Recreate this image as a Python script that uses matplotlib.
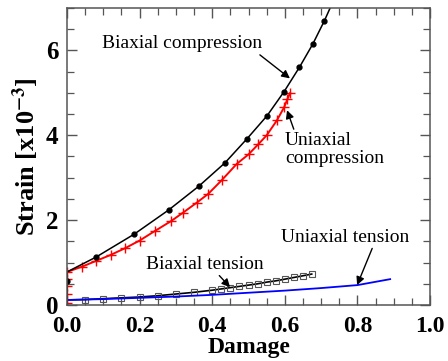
import matplotlib.pyplot as plt
from matplotlib.ticker import MultipleLocator

# biaxial compression (black line, filled dots)
bc_damage = [0.0, 0.0, 0.0, 0.08, 0.185, 0.28, 0.363, 0.435, 0.496, 0.551, 0.598, 0.64, 0.677, 0.709, 0.73]
bc_strain = [0.0, 0.56, 0.78, 1.13, 1.67, 2.24, 2.80, 3.35, 3.92, 4.46, 5.03, 5.60, 6.15, 6.70, 7.10]
bc_marks = [1, 3, 4, 5, 6, 7, 8, 9, 10, 11, 12, 13]

# uniaxial compression (red line, crosses)
uc_damage = [0.0, 0.0, 0.0, 0.0, 0.0, 0.04, 0.08, 0.12, 0.16, 0.2, 0.243, 0.287, 0.32, 0.357,
             0.389, 0.426, 0.468, 0.50, 0.527, 0.55, 0.578, 0.598, 0.607, 0.614]
uc_strain = [0.05, 0.25, 0.45, 0.62, 0.78, 0.90, 1.04, 1.18, 1.34, 1.52, 1.75, 1.98, 2.18, 2.41,
             2.62, 2.94, 3.33, 3.55, 3.79, 4.00, 4.35, 4.66, 4.85, 4.99]

# biaxial tension (black line, open squares)
bt_damage = [0.0, 0.0, 0.05, 0.1, 0.15, 0.2, 0.25, 0.3, 0.35, 0.4, 0.425, 0.45, 0.475, 0.5, 0.525,
             0.55, 0.575, 0.6, 0.625, 0.65, 0.674]
bt_strain = [0.0, 0.12, 0.13, 0.15, 0.17, 0.19, 0.22, 0.26, 0.30, 0.35, 0.38, 0.41, 0.44, 0.47, 0.50,
             0.54, 0.57, 0.61, 0.65, 0.69, 0.73]

# uniaxial tension (blue line)
ut_damage = [0.0, 0.0, 0.1, 0.2, 0.3, 0.4, 0.5, 0.6, 0.7, 0.8, 0.89]
ut_strain = [0.0, 0.12, 0.14, 0.17, 0.20, 0.24, 0.29, 0.34, 0.40, 0.47, 0.61]

serif = ['Liberation Serif', 'DejaVu Serif']
plt.rcParams['font.family'] = serif
plt.rcParams['mathtext.fontset'] = 'stix'

fig = plt.figure(figsize=(4.48, 3.61), dpi=100)
ax = fig.add_axes([0.1496, 0.155, 0.8104, 0.823])

ax.plot(bt_damage, bt_strain, color='black', lw=1.2, marker='s', ms=4.5, mfc='none',
        mec='#555555', mew=0.8, markevery=list(range(2, len(bt_damage))))
ax.plot(ut_damage, ut_strain, color='blue', lw=1.3)
ax.plot(uc_damage, uc_strain, color='red', lw=1.4, marker='+', ms=7, mew=1.0)
ax.plot(bc_damage, bc_strain, color='black', lw=1.1, marker='o', ms=3.5, markevery=bc_marks)

ax.set_xlim(0, 1.0)
ax.set_ylim(0, 7)
ax.xaxis.set_major_locator(MultipleLocator(0.2))
ax.xaxis.set_minor_locator(MultipleLocator(0.05))
ax.yaxis.set_major_locator(MultipleLocator(2))
ax.yaxis.set_minor_locator(MultipleLocator(0.5))
ax.xaxis.set_major_formatter(lambda v, p: f'{v:.1f}')
ax.tick_params(which='both', direction='in', top=True, right=True, color='#555555')
ax.tick_params(which='major', length=7, width=1.0, labelsize=18)
ax.tick_params(axis='x', which='major', pad=8, labelsize=17)
ax.tick_params(axis='y', which='major', pad=6)
ax.tick_params(which='minor', length=5, width=0.9)
for lab in ax.get_xticklabels() + ax.get_yticklabels():
    lab.set_fontweight('bold')
for s in ax.spines.values():
    s.set_color('#555555')
    s.set_linewidth(1.1)

ax.set_xlabel('Damage', fontsize=17, fontweight='bold', va='center')
ax.xaxis.set_label_coords(0.5, -0.143)
ax.set_ylabel(r'Strain [x10$^{\mathbf{-3}}$]', fontsize=19, fontweight='bold', labelpad=4)

arrow = dict(arrowstyle='-|>', color='black', lw=1.0, mutation_scale=12, shrinkA=0, shrinkB=0)
ax.annotate('Biaxial compression', xy=(0.614, 5.34), xytext=(0.317, 6.16), fontsize=14,
            ha='center', va='center', arrowprops=dict(arrow, relpos=(0.95, 0.1)))
ax.annotate('Uniaxial\ncompression', xy=(0.606, 4.59), xytext=(0.6, 3.67), fontsize=14,
            ha='left', va='center', linespacing=1.05,
            arrowprops=dict(arrow, relpos=(0.1, 1.0)))
ax.annotate('Uniaxial tension', xy=(0.799, 0.47), xytext=(0.766, 1.6), fontsize=14,
            ha='center', va='center', arrowprops=dict(arrow, relpos=(0.72, 0.0)))
ax.annotate('Biaxial tension', xy=(0.449, 0.42), xytext=(0.38, 0.96), fontsize=14,
            ha='center', va='center', arrowprops=dict(arrow, relpos=(0.6, 0.0)))

fig.savefig('out.png', dpi=100)
